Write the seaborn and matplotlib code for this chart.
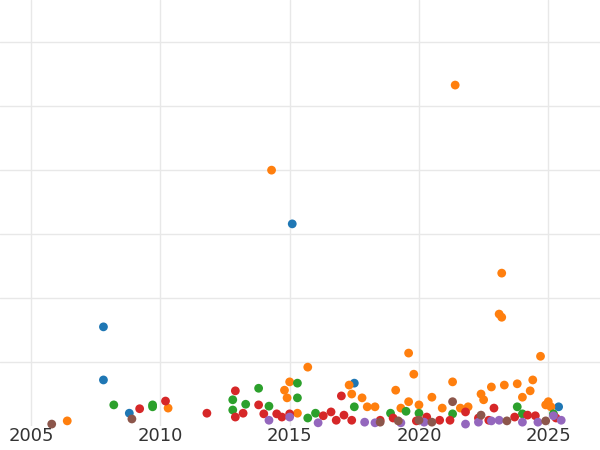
import seaborn as sns
import matplotlib.pyplot as plt
import pandas as pd

blue_x = [2007.8, 2007.8, 2008.8, 2015.1, 2017.5, 2025.4]
blue_y = [15.5, 7.2, 2.0, 31.6, 6.7, 3.0]

orange_x = [2006.4, 2010.3, 2014.3, 2015.0, 2014.8, 2014.9, 2015.3, 2015.7, 2017.3, 2017.4,
            2017.8, 2018.0, 2018.3, 2019.1, 2019.3, 2019.6, 2019.8, 2019.6, 2020.0, 2020.5,
            2020.9, 2021.4, 2021.3, 2021.6, 2021.9, 2022.4, 2022.5, 2022.8, 2023.2, 2023.1,
            2023.2, 2023.3, 2023.8, 2024.0, 2024.3, 2024.4, 2024.7, 2025.0, 2025.1, 2024.9]
orange_y = [0.8, 2.8, 40.0, 6.9, 5.6, 4.4, 2.0, 9.2, 6.4, 5.0,
            4.4, 3.0, 3.0, 5.6, 2.8, 11.4, 8.1, 3.8, 3.3, 4.5,
            2.8, 53.3, 6.9, 2.8, 3.0, 5.0, 4.1, 6.1, 23.9, 17.5,
            17.0, 6.4, 6.6, 4.5, 5.5, 7.2, 10.9, 3.8, 3.0, 3.3]

green_x = [2008.2, 2009.7, 2009.7, 2012.8, 2012.8, 2013.3, 2013.8, 2014.2, 2015.3, 2015.3,
           2015.7, 2016.0, 2017.5, 2018.9, 2019.5, 2020.0, 2021.3, 2023.8, 2024.0, 2025.2]
green_y = [3.3, 3.3, 3.0, 4.1, 2.5, 3.4, 5.9, 3.1, 4.4, 6.7,
           1.25, 2.0, 3.0, 2.0, 2.3, 2.0, 1.9, 3.0, 1.9, 1.9]

red_x = [2009.2, 2010.2, 2011.8, 2012.9, 2012.9, 2013.2, 2013.8, 2014.0, 2014.5, 2014.7,
         2015.0, 2016.3, 2016.6, 2016.8, 2017.1, 2017.0, 2017.4, 2018.5, 2019.0, 2019.9,
         2020.3, 2020.8, 2021.2, 2021.8, 2022.3, 2022.7, 2022.9, 2023.7, 2024.2, 2024.5, 2025.3]
red_y = [2.7, 3.9, 2.0, 5.5, 1.4, 2.0, 3.3, 1.9, 1.9, 1.4,
         1.9, 1.6, 2.2, 0.9, 1.7, 4.7, 0.9, 0.9, 1.25, 0.8,
         1.4, 0.9, 0.9, 2.2, 1.25, 0.9, 2.8, 1.4, 1.7, 1.6, 1.25]

purple_x = [2014.2, 2015.0, 2016.1, 2017.9, 2018.3, 2019.3, 2020.2, 2021.8, 2022.3, 2022.8,
            2023.1, 2024.0, 2024.6, 2025.2, 2025.5]
purple_y = [0.9, 1.4, 0.5, 0.6, 0.5, 0.5, 0.6, 0.3, 0.6, 0.8,
            0.9, 0.6, 0.6, 1.6, 0.9]

brown_x = [2005.8, 2008.9, 2018.5, 2019.2, 2020.0, 2020.5, 2021.3, 2022.4, 2023.4, 2024.9]
brown_y = [0.3, 1.1, 0.6, 0.8, 0.9, 0.6, 3.8, 1.7, 0.8, 0.8]

groups = [('a', blue_x, blue_y), ('b', orange_x, orange_y), ('c', green_x, green_y),
          ('d', red_x, red_y), ('e', purple_x, purple_y), ('f', brown_x, brown_y)]
df = pd.concat([pd.DataFrame({'year': x, 'value': y, 'group': g}) for g, x, y in groups])

sns.set_style('whitegrid')
fig = plt.figure(figsize=(6, 4.5), dpi=100)
# axes run from the top edge down to y=426 px, the value-0 line
ax = fig.add_axes([0, 24 / 450, 1, 426 / 450])
sns.scatterplot(data=df, x='year', y='value', hue='group', palette='tab10',
                s=40, edgecolor='none', legend=False, ax=ax, clip_on=False)
ax.set_xlim(2003.8, 2027.0)
ax.set_ylim(0, 66.6)
ax.set_xticks([2005, 2010, 2015, 2020, 2025])
ax.set_yticks([10, 20, 30, 40, 50, 60])
ax.set_yticklabels([])
ax.tick_params(axis='x', labelsize=13, colors='#333333', pad=1, length=0)
ax.tick_params(axis='y', length=0)
ax.set_xlabel('')
ax.set_ylabel('')
ax.grid(color='#e8e8e8', linewidth=1)
for s in ax.spines.values():
    s.set_visible(False)
fig.savefig('out.png', dpi=100)
